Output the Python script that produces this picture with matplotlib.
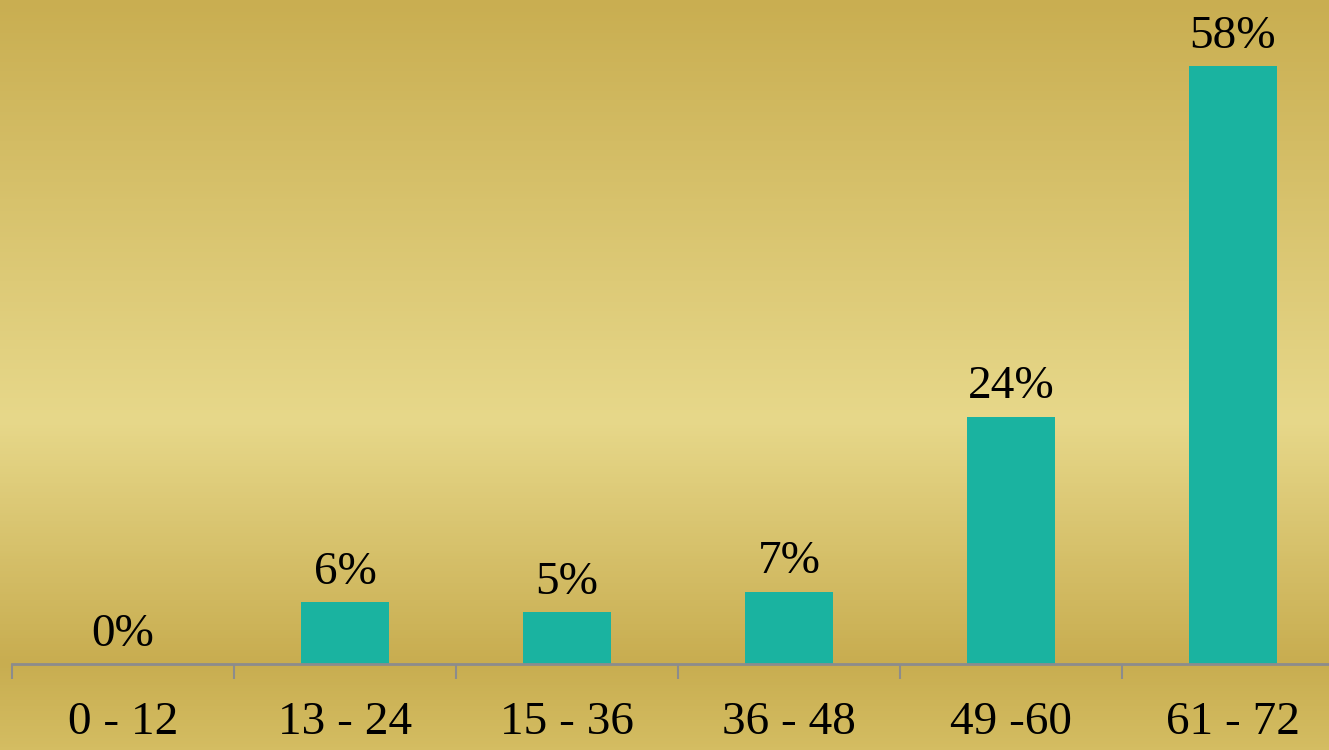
import numpy as np
import matplotlib.pyplot as plt
from matplotlib.colors import LinearSegmentedColormap

categories = ['0 - 12', '13 - 24', '15 - 36', '36 - 48', '49 -60', '61 - 72']
values = [0, 6, 5, 7, 24, 58]
labels = ['0%', '6%', '5%', '7%', '24%', '58%']

plt.rcParams['font.family'] = ['Liberation Serif', 'DejaVu Serif']

fig = plt.figure(figsize=(13.29, 7.5), dpi=100)

# gold gradient background
bg = fig.add_axes([0, 0, 1, 1], zorder=0)
stops = [(0.0, '#c9ae51'), (0.56, '#e7d88a'), (0.885, '#c8ad50'), (1.0, '#d4bd62')]
cmap = LinearSegmentedColormap.from_list('gold', stops)
grad = np.linspace(0, 1, 750).reshape(-1, 1)
bg.imshow(grad, aspect='auto', cmap=cmap, extent=[0, 1, 1, 0])
bg.set_axis_off()

ax = fig.add_axes([12 / 1329, 86 / 750, 1332 / 1329, 664 / 750], zorder=1)
ax.patch.set_alpha(0)
x = np.arange(len(categories))
ax.bar(x, values, width=0.4, color='#1ab3a0')
for xi, v, lab in zip(x, values, labels):
    ax.annotate(lab, (xi, v), xytext=(0, 6), textcoords='offset points',
                ha='center', va='bottom', fontsize=34, color='black')

ax.set_xlim(-0.5, len(categories) - 0.5)
ax.set_ylim(0, 64.4)
ax.set_xticks(x)
ax.set_xticklabels(categories, fontsize=34)
ax.set_xticks(np.arange(-0.5, len(categories), 1), minor=True)
ax.tick_params(axis='x', which='major', length=0, pad=27)
ax.tick_params(axis='x', which='minor', length=11, width=1.5, color='#8c8c8c')
ax.set_yticks([])
for s in ['top', 'right', 'left']:
    ax.spines[s].set_visible(False)
ax.spines['bottom'].set_color('#8c8c8c')
ax.spines['bottom'].set_linewidth(2)

fig.savefig('out.png', dpi=100)
